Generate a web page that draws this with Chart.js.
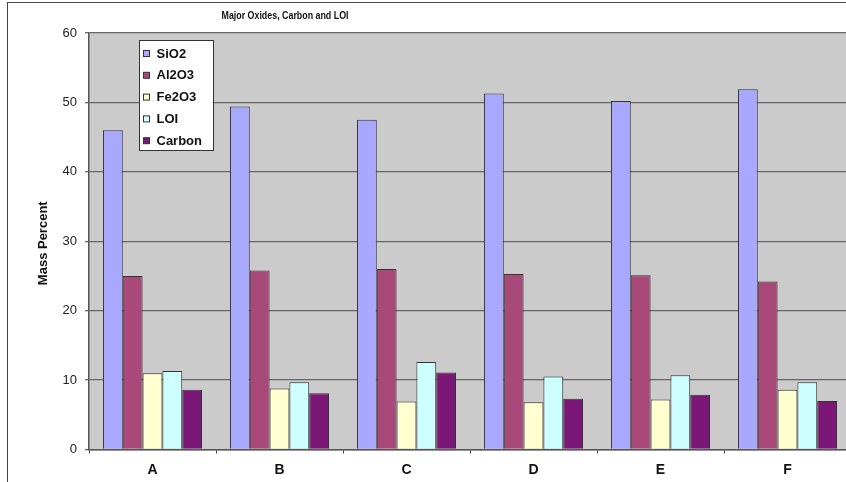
<!DOCTYPE html>
<html>
<head>
<meta charset="utf-8">
<script src="https://cdn.jsdelivr.net/npm/chart.js@4/dist/chart.umd.min.js"></script>
<style>
  html, body { margin: 0; padding: 0; background: #ffffff; overflow: hidden; width: 846px; height: 482px; }
  #wrap { position: absolute; left: 0; top: 0; width: 860px; height: 482px; }
  #frame { position: absolute; left: 7px; top: 2px; width: 860px; height: 500px;
           border-left: 1.5px solid #444; border-top: 1.5px solid #444; pointer-events: none; }
</style>
</head>
<body>
<div id="wrap"><canvas id="c" width="860" height="482"></canvas></div>
<div id="frame"></div>
<script>
// Samples
const categories = ['A', 'B', 'C', 'D', 'E', 'F'];

// Mass percent per sample
const sio2   = [46.0, 49.4, 47.5, 51.3, 50.2, 51.9];
const al2o3  = [25.0, 25.8, 26.0, 25.3, 25.1, 24.2];
const fe2o3  = [11.0, 8.8, 6.9, 6.8, 7.2, 8.6];
const loi    = [11.3, 9.7, 12.6, 10.5, 10.7, 9.7];
const carbon = [8.6, 8.1, 11.1, 7.3, 7.9, 7.0];

const seriesNames = ['SiO2', 'Al2O3', 'Fe2O3', 'LOI', 'Carbon'];
const seriesValues = [sio2, al2o3, fe2o3, loi, carbon];
const seriesColors = ['#a8a8ff', '#a9497a', '#ffffcf', '#ceffff', '#7b1877'];

const yTicks = [0, 10, 20, 30, 40, 50, 60];
const chartTitle = 'Major Oxides, Carbon and LOI';
const yTitle = 'Mass Percent';

// Grey plot background
const plotBackground = {
  id: 'plotBackground',
  beforeDraw(chart) {
    const { ctx, chartArea: a } = chart;
    ctx.save();
    ctx.fillStyle = '#cbcbcb';
    ctx.fillRect(a.left, a.top, a.right - a.left, a.bottom - a.top);
    ctx.restore();
  }
};

// Title, axis title and boxed legend
const annotations = {
  id: 'annotations',
  afterDraw(chart) {
    const { ctx, chartArea: a } = chart;
    ctx.save();
    ctx.fillStyle = '#111';
    ctx.textAlign = 'center';
    ctx.textBaseline = 'middle';
    ctx.font = 'bold 11.5px "Liberation Sans", Arial, sans-serif';
    ctx.fillText(chartTitle, a.left + 196, 15.5, 127);

    ctx.save();
    ctx.translate(a.left - 46, (a.top + a.bottom) / 2 + 2);
    ctx.rotate(-Math.PI / 2);
    ctx.font = 'bold 13px "Liberation Sans", Arial, sans-serif';
    ctx.fillText(yTitle, 0, 0, 90);
    ctx.restore();

    // legend box
    const bx = a.left + 50.5, by = a.top + 7.5, bw = 74, bh = 110;
    ctx.fillStyle = '#ffffff';
    ctx.fillRect(bx, by, bw, bh);
    ctx.strokeStyle = '#333';
    ctx.lineWidth = 1;
    ctx.strokeRect(bx, by, bw, bh);
    ctx.textAlign = 'left';
    ctx.font = 'bold 13px "Liberation Sans", Arial, sans-serif';
    chart.data.datasets.forEach((ds, i) => {
      const cy = by + 13 + i * 21.8;
      ctx.fillStyle = ds.backgroundColor;
      ctx.fillRect(bx + 4, cy - 3, 6, 6);
      ctx.strokeStyle = '#333';
      ctx.strokeRect(bx + 4, cy - 3, 6, 6);
      ctx.fillStyle = '#111';
      ctx.fillText(ds.label, bx + 17, cy + 0.5);
    });
    ctx.restore();
  }
};

new Chart(document.getElementById('c'), {
  type: 'bar',
  data: {
    labels: categories,
    datasets: seriesNames.map((name, i) => ({
      label: name,
      data: seriesValues[i],
      backgroundColor: seriesColors[i],
      borderColor: '#333',
      borderWidth: 1,
      categoryPercentage: 0.78,
      barPercentage: 1.0
    }))
  },
  options: {
    responsive: false,
    animation: false,
    layout: { padding: { left: 0, right: 9, top: 33, bottom: 0 } },
    plugins: { legend: { display: false }, title: { display: false }, tooltip: { enabled: false } },
    scales: {
      x: {
        offset: true,
        grid: { display: true, drawOnChartArea: false, offset: true, tickLength: 4, color: '#444', lineWidth: 1 },
        border: { color: '#555', width: 1.5 },
        ticks: { color: '#111', font: { family: '"Liberation Sans", Arial, sans-serif', size: 14, weight: 'bold' }, padding: 8 },
        afterFit(scale) { scale.height = 32.5; }
      },
      y: {
        min: 0, max: 60,
        afterBuildTicks(scale) { scale.ticks = yTicks.map(v => ({ value: v })); },
        grid: { color: '#666', lineWidth: 1.3, tickLength: 4, drawTicks: true },
        border: { color: '#555', width: 1.5 },
        ticks: { color: '#222', font: { family: '"Liberation Sans", Arial, sans-serif', size: 13 }, padding: 8 },
        afterFit(scale) { scale.width = 89; }
      }
    }
  },
  plugins: [plotBackground, annotations]
});
</script>
</body>
</html>
